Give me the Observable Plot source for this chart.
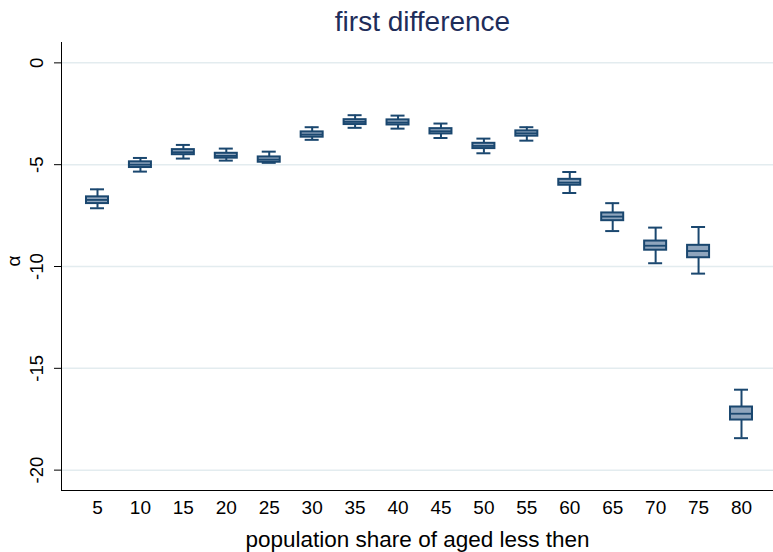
<!DOCTYPE html>
<html>
<head>
<meta charset="utf-8">
<script src="https://cdn.jsdelivr.net/npm/d3@7"></script>
<script src="https://cdn.jsdelivr.net/npm/@observablehq/plot@0.6"></script>
<style>
  html, body { margin: 0; padding: 0; background: #ffffff; }
  #chart svg { display: block; }
</style>
</head>
<body>
<div id="chart"></div>
<script>
// Age-share thresholds (x categories)
const categories = [5, 10, 15, 20, 25, 30, 35, 40, 45, 50, 55, 60, 65, 70, 75, 80];

// Box-plot summaries of the estimated alpha for each threshold
const whiskerHigh = [-6.21, -4.67, -4.03, -4.21, -4.36, -3.16, -2.57, -2.59, -2.98, -3.72, -3.16, -5.36, -6.89, -8.09, -8.06, -16.05];
const upperQuartile = [-6.58, -4.86, -4.26, -4.44, -4.62, -3.39, -2.79, -2.80, -3.23, -3.95, -3.34, -5.72, -7.37, -8.75, -8.96, -16.90];
const median = [-6.73, -5.00, -4.39, -4.57, -4.75, -3.52, -2.90, -2.93, -3.36, -4.08, -3.46, -5.88, -7.55, -8.98, -9.24, -17.23];
const lowerQuartile = [-6.91, -5.14, -4.51, -4.68, -4.88, -3.65, -3.03, -3.05, -3.49, -4.21, -3.60, -6.01, -7.75, -9.20, -9.57, -17.54];
const whiskerLow = [-7.14, -5.34, -4.70, -4.80, -4.91, -3.78, -3.19, -3.23, -3.69, -4.44, -3.82, -6.39, -8.26, -9.84, -10.35, -18.43];

// Axis ticks and texts
const yTicks = [0, -5, -10, -15, -20];
const titleText = "first difference";
const xLabel = "population share of aged less then";
const yLabel = "α";

const rows = categories.map((c, i) => ({
  cat: c,
  hi: whiskerHigh[i],
  q3: upperQuartile[i],
  med: median[i],
  q1: lowerQuartile[i],
  lo: whiskerLow[i]
}));

const navy = "#1a476f";
const boxFill = "#8fa5bd";

const chart = Plot.plot({
  width: 773,
  height: 552,
  marginTop: 42,
  marginBottom: 62,
  marginLeft: 61,
  marginRight: 0,
  style: {fontFamily: "'Liberation Sans', Arial, sans-serif", background: "#ffffff", color: "#000"},
  x: {type: "band", domain: categories, range: [61, 777], round: false, paddingInner: 0.4875, paddingOuter: 0.5823, axis: null},
  y: {domain: [-21, 1], axis: null},
  marks: [
    Plot.gridY(yTicks, {stroke: "#e3ecef", strokeOpacity: 1, strokeWidth: 1.5}),
    Plot.frame({anchor: "left", stroke: "#000"}),
    Plot.frame({anchor: "bottom", stroke: "#000"}),
    Plot.axisY(yTicks, {tickSize: 7, fill: "none", label: null, stroke: "#000"}),
    Plot.text(yTicks, {y: d => d, text: d => String(d), frameAnchor: "left", dx: -19, rotate: -90,
      textAnchor: "middle", lineAnchor: "bottom", fontSize: 18.5, fill: "#000"}),
    Plot.axisX({tickSize: 0, tickPadding: 10, fontSize: 19, label: null, fill: "#000"}),
    // whiskers and caps
    Plot.ruleX(rows, {x: "cat", y1: "lo", y2: "hi", stroke: navy, strokeWidth: 2}),
    Plot.tickY(rows, {x: "cat", y: "hi", stroke: navy, strokeWidth: 2, inset: 4}),
    Plot.tickY(rows, {x: "cat", y: "lo", stroke: navy, strokeWidth: 2, inset: 4}),
    // interquartile boxes and medians
    Plot.barY(rows, {x: "cat", y1: "q1", y2: "q3", fill: boxFill, stroke: navy, strokeWidth: 2}),
    Plot.tickY(rows, {x: "cat", y: "med", stroke: navy, strokeWidth: 1.8}),
    // titles
    Plot.text([titleText], {frameAnchor: "top", dx: 5, dy: -12, lineAnchor: "bottom", fontSize: 28, fill: "#1e2d5a"}),
    Plot.text([xLabel], {frameAnchor: "bottom", dy: 56, lineAnchor: "bottom", fontSize: 22.5, fill: "#000"}),
    Plot.text([yLabel], {frameAnchor: "left", dx: -42, rotate: -90, lineAnchor: "bottom", fontSize: 19, fill: "#000"})
  ]
});

document.getElementById("chart").appendChild(chart);
</script>
</body>
</html>
